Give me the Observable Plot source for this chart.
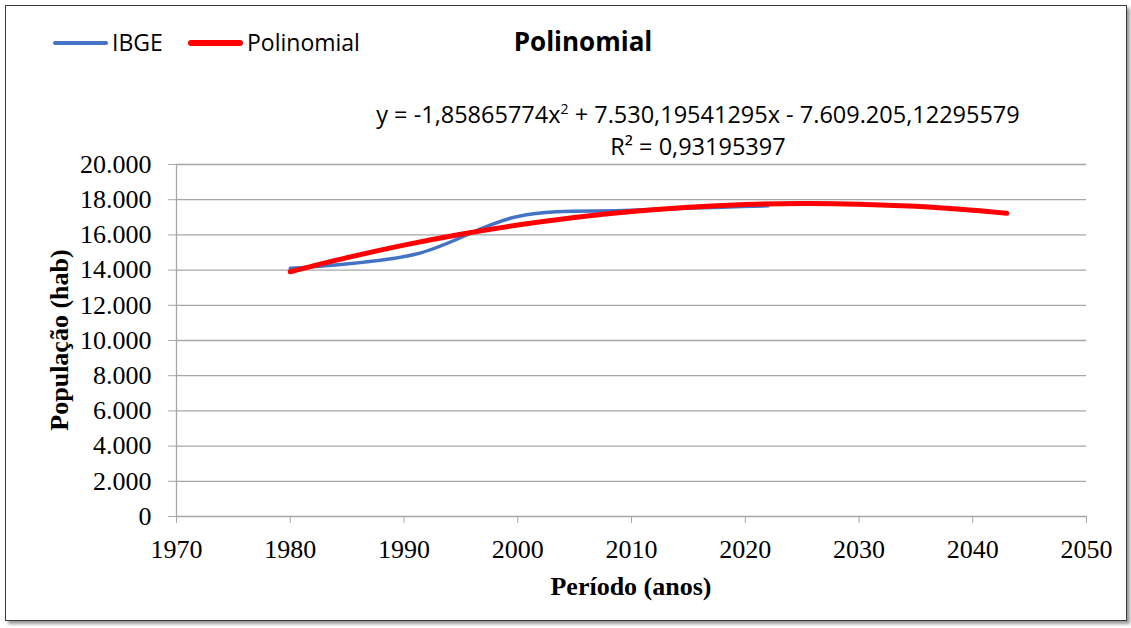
<!DOCTYPE html>
<html><head><meta charset="utf-8">
<script src="https://cdn.jsdelivr.net/npm/d3@7"></script>
<script src="https://cdn.jsdelivr.net/npm/@observablehq/plot@0.6"></script>
<style>
body{margin:0;background:#fff;}
#wrap{position:relative;width:1131px;height:628px;overflow:hidden;background:#fff;}
#frame{position:absolute;left:5px;top:5px;width:1120px;height:614px;border:1px solid #3a3a3a;box-shadow:3px 3px 3px #9a9a9a;}
.sans{font-family:"Open Sans",sans-serif;position:absolute;white-space:nowrap;color:#000;line-height:1.3;}
.serif{font-family:"Liberation Serif",serif;position:absolute;white-space:nowrap;color:#000;font-weight:bold;line-height:1.15;}
.sw{position:absolute;height:4px;border-radius:2px;}
#chart{position:absolute;left:0;top:0;}
</style></head><body>
<div id="wrap">
<div id="frame"></div>
<div id="chart"></div>
<div class="sw" style="left:53px;top:41px;width:55px;background:#4472C4"></div>
<div class="sans" style="left:112px;top:28px;font-size:23px">IBGE</div>
<div class="sw" style="left:188px;top:40px;width:55px;height:6px;border-radius:3px;background:#FF0000"></div>
<div class="sans" style="left:247px;top:28px;font-size:23px">Polinomial</div>
<div class="sans" style="left:583px;top:25px;font-size:26px;font-weight:bold;transform:translateX(-50%)">Polinomial</div>
<div class="sans" style="left:698px;top:99px;font-size:23.5px;transform:translateX(-50%)">y = -1,85865774x<sup style="font-size:14px">2</sup> + 7.530,19541295x - 7.609.205,12295579</div>
<div class="sans" style="left:698px;top:131px;font-size:23.5px;transform:translateX(-50%)">R² = 0,93195397</div>
<div class="serif" style="left:631px;top:572px;font-size:26px;transform:translateX(-50%)">Período (anos)</div>
<div class="serif" style="left:60px;top:340px;font-size:26px;transform:translate(-50%,-50%) rotate(-90deg)">População (hab)</div>
</div>
<script>
const ibgeYears = [1980, 1991, 2000, 2010, 2022];
const ibgePop = [14100, 14900, 17050, 17400, 17650];
const polyYears = [1980, 1985, 1990, 1995, 2000, 2005, 2010, 2015, 2020, 2025, 2030, 2035, 2040, 2043];
const polyPop = [13905, 14707, 15417, 16034, 16557, 16988, 17326, 17571, 17723, 17782, 17748, 17622, 17402, 17226];
const xTicks = [1970, 1980, 1990, 2000, 2010, 2020, 2030, 2040, 2050];
const yTicks = [0, 2000, 4000, 6000, 8000, 10000, 12000, 14000, 16000, 18000, 20000];

const ibge = ibgeYears.map((x, i) => ({x, y: ibgePop[i]}));
const poly = polyYears.map((x, i) => ({x, y: polyPop[i]}));
const fmt = d3.formatLocale({decimal: ",", thousands: ".", grouping: [3], currency: ["", ""]}).format(",");
const serif = "'Liberation Serif', serif";

const chart = Plot.plot({
  width: 1131, height: 628,
  marginLeft: 176, marginRight: 45, marginTop: 164, marginBottom: 112,
  style: {fontFamily: serif, fontSize: "26px", color: "#000", background: "transparent"},
  x: {domain: [1970, 2050]},
  y: {domain: [0, 20000]},
  marks: [
    Plot.ruleY(yTicks.filter(d => d > 0), {stroke: "#a6a6a6", strokeWidth: 1.3}),
    Plot.ruleX([1970], {stroke: "#a6a6a6", strokeWidth: 1.3}),
    Plot.ruleY([0], {stroke: "#a6a6a6", strokeWidth: 1.3}),
    Plot.axisY({ticks: yTicks, tickFormat: fmt, tickSize: 8, tickPadding: 17, stroke: "#a6a6a6", fill: "#000", label: null, fontSize: 26, fontFamily: serif}),
    Plot.axisX({ticks: xTicks, tickFormat: d => String(d), tickSize: 7, tickPadding: 16, stroke: "#a6a6a6", fill: "#000", label: null, fontSize: 26, fontFamily: serif}),
    Plot.line(ibge, {x: "x", y: "y", stroke: "#4472C4", strokeWidth: 3.5, curve: "catmull-rom"}),
    Plot.line(poly, {x: "x", y: "y", stroke: "#FF0000", strokeWidth: 5, curve: "catmull-rom"})
  ]
});
document.getElementById("chart").appendChild(chart);
</script>
</body></html>
